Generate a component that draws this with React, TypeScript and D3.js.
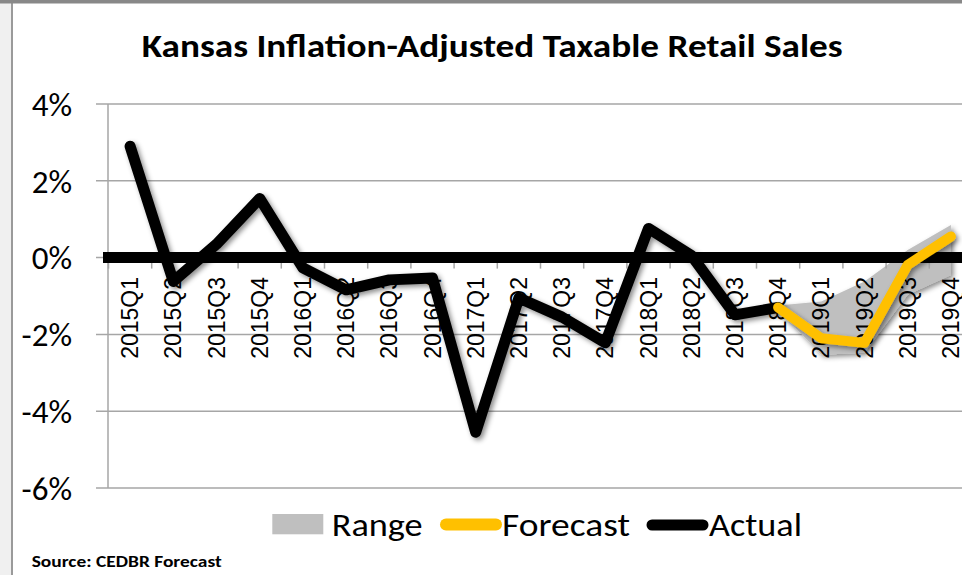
import React from 'react';
import * as d3 from 'd3';

const categories = [
  '2015Q1', '2015Q2', '2015Q3', '2015Q4',
  '2016Q1', '2016Q2', '2016Q3', '2016Q4',
  '2017Q1', '2017Q2', '2017Q3', '2017Q4',
  '2018Q1', '2018Q2', '2018Q3', '2018Q4',
  '2019Q1', '2019Q2', '2019Q3', '2019Q4',
];

const actual: (number | null)[] = [
  2.9, -0.62, 0.35, 1.54,
  -0.27, -0.84, -0.58, -0.53,
  -4.55, -1.05, -1.55, -2.22,
  0.76, 0.05, -1.49, -1.3,
  null, null, null, null,
];

const forecast: (number | null)[] = [
  null, null, null, null,
  null, null, null, null,
  null, null, null, null,
  null, null, null, -1.3,
  -2.1, -2.22, -0.19, 0.55,
];

const rangeLow: (number | null)[] = [
  null, null, null, null,
  null, null, null, null,
  null, null, null, null,
  null, null, null, -1.35,
  -2.53, -2.48, -0.97, -0.45,
];

const rangeHigh: (number | null)[] = [
  null, null, null, null,
  null, null, null, null,
  null, null, null, null,
  null, null, null, -1.25,
  -1.14, -0.62, 0.2, 0.85,
];

const yTicks = [4, 2, 0, -2, -4, -6];

const title = 'Kansas Inflation-Adjusted Taxable Retail Sales';
const legendItems = ['Range', 'Forecast', 'Actual'];
const sourceText = 'Source: CEDBR Forecast';

const W = 962;
const H = 575;
const UI = 'Carlito, Calibri, Lato, sans-serif';

export default function App() {
  const x = d3
    .scalePoint<string>()
    .domain(categories)
    .range([108.5, 972.5])
    .padding(0.5);
  const step = x.step();
  const y = d3.scaleLinear().domain([-6, 4]).range([488, 104]);

  const lineGen = d3
    .line<number | null>()
    .defined((d) => d !== null)
    .x((_, i) => x(categories[i]) as number)
    .y((d) => y(d as number));

  const areaIdx = categories.map((_, i) => i).filter((i) => rangeLow[i] !== null);
  const areaGen = d3
    .area<number>()
    .x((i) => x(categories[i]) as number)
    .y0((i) => y(rangeLow[i] as number))
    .y1((i) => y(rangeHigh[i] as number));

  const boundaries = d3.range(categories.length + 1).map((k) => 108.5 + k * step);

  return (
    <svg
      width={W}
      height={H}
      style={{ position: 'absolute', left: 0, top: 0, background: '#fff' }}
    >
      <defs>
        <filter id="shadow" x="-10%" y="-10%" width="130%" height="130%">
          <feDropShadow dx="2.5" dy="2.5" stdDeviation="2.5" floodColor="#000" floodOpacity="0.45" />
        </filter>
      </defs>
      <rect x={0} y={0} width={W} height={H} fill="#fff" />
      <rect x={0} y={0} width={11} height={H} fill="#f0f0f0" />
      <line x1={12} x2={12} y1={0} y2={H} stroke="#9a9a9a" strokeWidth={2} />
      <rect x={0} y={0} width={W} height={3.5} fill="#888" />

      {/* title */}
      <text
        x={141.7}
        y={57}
        fontFamily={UI}
        fontWeight="bold"
        fontSize={32}
        textLength={701}
        lengthAdjust="spacingAndGlyphs"
        fill="#000"
      >
        {title}
      </text>

      {/* gridlines & y labels */}
      {yTicks.map((t) => (
        <g key={t}>
          <line x1={96} x2={W} y1={y(t)} y2={y(t)} stroke="#a6a6a6" strokeWidth={1.5} />
          <text
            x={72}
            y={y(t)}
            dy="0.36em"
            textAnchor="end"
            fontFamily={UI}
            fontSize={33}
            fill="#000"
          >
            {`${t}%`}
          </text>
        </g>
      ))}
      <line x1={108} x2={108} y1={y(4)} y2={y(-6)} stroke="#a6a6a6" strokeWidth={1.5} />

      {/* range area */}
      <path d={areaGen(areaIdx) || ''} fill="#bfbfbf" filter="url(#shadow)" />

      {/* category ticks */}
      {boundaries.map((b, k) => (
        <line key={k} x1={b} x2={b} y1={y(0)} y2={y(0) + 11} stroke="#a6a6a6" strokeWidth={1.5} />
      ))}

      {/* category labels */}
      {categories.map((c) => (
        <text
          key={c}
          transform={`translate(${x(c)},277) rotate(-90)`}
          textAnchor="end"
          dy="0.35em"
          fontFamily="'Liberation Sans', Arial, sans-serif"
          fontSize={23}
          fill="#000"
        >
          {c}
        </text>
      ))}

      {/* thick zero axis */}
      <line x1={103} x2={W} y1={y(0)} y2={y(0)} stroke="#000" strokeWidth={11} />

      {/* actual */}
      <path
        d={lineGen(actual) || ''}
        fill="none"
        stroke="#000"
        strokeWidth={11}
        strokeLinejoin="round"
        strokeLinecap="round"
        filter="url(#shadow)"
      />
      {/* forecast */}
      <path
        d={lineGen(forecast) || ''}
        fill="none"
        stroke="#ffc000"
        strokeWidth={10}
        strokeLinejoin="round"
        strokeLinecap="round"
        filter="url(#shadow)"
      />

      {/* legend */}
      <rect x={272.3} y={514} width={51} height={20.3} fill="#bfbfbf" />
      <text x={331.7} y={535.5} fontFamily={UI} fontSize={33} textLength={91} lengthAdjust="spacingAndGlyphs">
        {legendItems[0]}
      </text>
      <line x1={446} x2={496} y1={524.5} y2={524.5} stroke="#ffc000" strokeWidth={12} strokeLinecap="round" />
      <text x={502} y={535.5} fontFamily={UI} fontSize={33} textLength={128} lengthAdjust="spacingAndGlyphs">
        {legendItems[1]}
      </text>
      <line x1={652} x2={703} y1={525} y2={525} stroke="#000" strokeWidth={11} strokeLinecap="round" />
      <text x={709} y={535.5} fontFamily={UI} fontSize={33} textLength={93} lengthAdjust="spacingAndGlyphs">
        {legendItems[2]}
      </text>

      {/* source */}
      <text
        x={31.7}
        y={566.5}
        fontFamily={UI}
        fontWeight="bold"
        fontSize={15}
        textLength={190}
        lengthAdjust="spacingAndGlyphs"
      >
        {sourceText}
      </text>
    </svg>
  );
}
